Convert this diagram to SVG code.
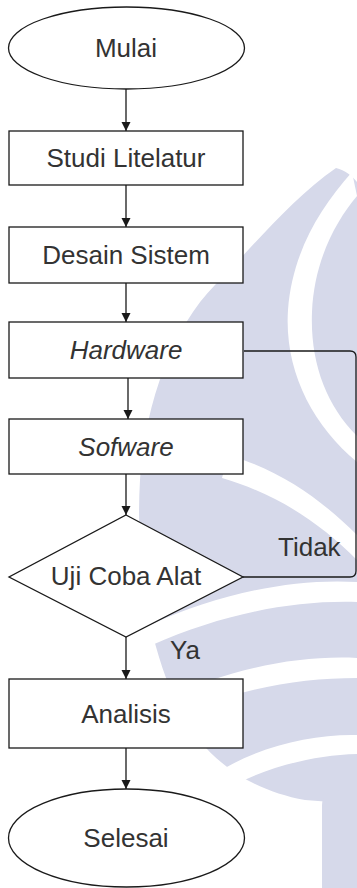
<svg xmlns="http://www.w3.org/2000/svg" width="357" height="888" viewBox="0 0 357 888">
  <defs>
    <style>
      .shape { fill: #ffffff; stroke: #1a1a1a; stroke-width: 1.3; }
      .label { font-family: "Liberation Sans", Arial, sans-serif; font-size: 26px; fill: #333333; text-anchor: middle; }
      .note { font-family: "Liberation Sans", Arial, sans-serif; font-size: 26px; fill: #333333; }
      .it { font-style: italic; }
      .wire { fill: none; stroke: #1a1a1a; stroke-width: 1.3; }
      .mark { fill: #d6d9ea; }
      .gap { fill: #ffffff; }
    </style>
    <marker id="arrow" markerUnits="userSpaceOnUse" markerWidth="10" markerHeight="10" refX="9" refY="5" orient="auto">
      <path d="M0,0.5 L9,5 L0,9.5 Z" fill="#1a1a1a"/>
    </marker>
  </defs>

  <rect width="357" height="888" fill="#ffffff"/>

  <!-- background emblem -->
  <g id="emblem">
    <path class="mark" d="M336,168 C290,200 250,250 215,285 C175,325 145,400 140,480 C135,570 150,650 180,710 C205,760 250,790 305,800 L357,804 L357,182 C352,176 345,170 336,168 Z"/>
    <path class="gap" d="M352,172 C318,210 292,255 288,310 C284,370 312,425 357,462 L357,436 C326,405 310,362 312,312 C314,262 335,222 357,196 Z"/>
    <path class="gap" d="M228,455 C280,470 322,500 357,535 L357,560 C322,525 280,495 222,478 Z"/>
    <path class="gap" d="M150,625 C215,595 290,578 357,582 L357,602 C290,600 220,615 152,645 Z"/>
    <path class="gap" d="M165,700 C225,670 295,655 357,658 L357,678 C295,678 230,690 170,720 Z"/>
    <path class="gap" d="M225,768 C265,745 315,734 357,735 L357,754 C318,755 275,765 240,782 Z"/>
    <path class="mark" d="M322,888 L322,805 C322,795 330,790 340,790 L357,790 L357,888 Z"/>
  </g>

  <g id="connectors">
    <line class="wire" x1="126" y1="89" x2="126" y2="131" marker-end="url(#arrow)"/>
    <line class="wire" x1="126" y1="185" x2="126" y2="227" marker-end="url(#arrow)"/>
    <line class="wire" x1="126" y1="283" x2="126" y2="322" marker-end="url(#arrow)"/>
    <line class="wire" x1="128" y1="378" x2="128" y2="419" marker-end="url(#arrow)"/>
    <line class="wire" x1="126" y1="474" x2="126" y2="515" marker-end="url(#arrow)"/>
    <line class="wire" x1="126" y1="637" x2="126" y2="679" marker-end="url(#arrow)"/>
    <line class="wire" x1="126" y1="748" x2="126" y2="789" marker-end="url(#arrow)"/>
    <path class="wire" d="M243,577 H350 Q356,577 356,571 V357 Q356,351 350,351 H244"/>
    <text class="note" x="278" y="556">Tidak</text>
    <text class="note" x="170" y="659">Ya</text>
  </g>

  <g id="mulai">
    <ellipse class="shape" cx="126.5" cy="48" rx="118" ry="41"/>
    <text class="label" x="126" y="57">Mulai</text>
  </g>

  <g id="studi-litelatur">
    <rect class="shape" x="9" y="131" width="234" height="54"/>
    <text class="label" x="126" y="167">Studi Litelatur</text>
  </g>

  <g id="desain-sistem">
    <rect class="shape" x="9" y="227" width="234" height="56"/>
    <text class="label" x="126" y="264">Desain Sistem</text>
  </g>

  <g id="hardware">
    <rect class="shape" x="9" y="322" width="234" height="56"/>
    <text class="label it" x="126" y="359">Hardware</text>
  </g>

  <g id="sofware">
    <rect class="shape" x="9" y="419" width="234" height="55"/>
    <text class="label it" x="126" y="456">Sofware</text>
  </g>

  <g id="uji-coba-alat">
    <polygon class="shape" points="126,515 243,577 126,637 9,577"/>
    <text class="label" x="126" y="585">Uji Coba Alat</text>
  </g>

  <g id="analisis">
    <rect class="shape" x="9" y="679" width="234" height="69"/>
    <text class="label" x="126" y="723">Analisis</text>
  </g>

  <g id="selesai">
    <ellipse class="shape" cx="126.5" cy="838" rx="118" ry="49"/>
    <text class="label" x="126" y="847">Selesai</text>
  </g>
</svg>
